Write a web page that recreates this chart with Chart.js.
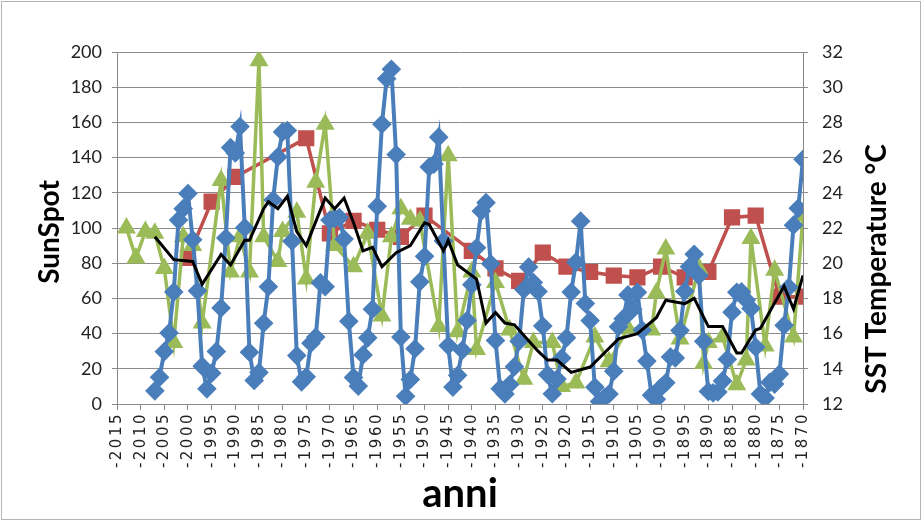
<!DOCTYPE html>
<html>
<head>
<meta charset="utf-8">
<script src="https://cdn.jsdelivr.net/npm/chart.js@4/dist/chart.umd.min.js"></script>
<style>
  html, body { margin: 0; padding: 0; background: #fff; }
  #wrap { width: 922px; height: 522px; }
</style>
</head>
<body>
<div id="wrap"><canvas id="chart" width="922" height="522"></canvas></div>
<script>
// yearly sunspot number, 2007 back to 1870 (left axis)
const sunspotFirstYear = 2007;
const sunspotValues = [
  7.5, 15.2, 29.8, 40.4, 63.7, 104.5, 111.0, 119.6, 93.3, 64.3,
  21.5, 8.6, 17.5, 29.9, 54.6, 94.3, 145.7, 142.6, 157.6, 100.2,
  29.4, 13.4, 17.9, 45.9, 66.6, 115.9, 140.4, 154.6, 155.4, 92.5,
  27.5, 12.6, 15.5, 34.5, 38.0, 68.9, 66.6, 104.5, 105.5, 105.9,
  93.7, 47.0, 15.1, 10.2, 27.9, 37.6, 53.9, 112.3, 159.0, 184.8,
  190.2, 141.7, 38.0, 4.4, 13.9, 31.4, 69.4, 83.9, 134.7, 136.3,
  151.6, 92.6, 33.2, 9.6, 16.3, 30.6, 47.5, 67.8, 88.8, 109.6,
  114.4, 79.7, 36.1, 8.7, 5.7, 11.1, 21.2, 35.7, 65.0, 77.8,
  69.0, 63.9, 44.3, 16.7, 5.8, 14.2, 26.1, 37.6, 63.6, 80.6,
  103.9, 57.1, 47.4, 9.6, 1.4, 3.6, 5.7, 18.6, 43.9, 48.5,
  62.0, 53.8, 63.5, 42.0, 24.4, 5.0, 2.7, 9.5, 12.1, 26.7,
  26.2, 41.8, 64.0, 78.0, 85.1, 73.0, 35.6, 7.1, 6.3, 6.8,
  13.1, 25.4, 52.2, 63.5, 63.7, 59.1, 54.3, 32.3, 5.7, 3.4,
  12.3, 11.3, 17.0, 44.7, 66.3, 101.6, 111.2, 139.0
];

// red squares, every 5 years (right axis, °C)
const redYears = [2000, 1995, 1990, 1975, 1970, 1965, 1960, 1955, 1950, 1940, 1935, 1930,
  1925, 1920, 1915, 1910, 1905, 1900, 1895, 1890, 1885, 1880, 1875, 1870];
const redValues = [20.3, 23.5, 24.9, 27.1, 21.7, 22.4, 21.9, 21.5, 22.7, 20.7, 19.7, 19.0,
  20.6, 19.8, 19.5, 19.3, 19.2, 19.8, 19.2, 19.5, 22.6, 22.7, 18.1, 18.1];

// green triangles (right axis, °C)
const greenYears = [2013, 2011, 2009, 2007, 2005, 2003, 2001, 1999, 1997, 1993, 1991, 1989,
  1987, 1985, 1984, 1981, 1980, 1977, 1975, 1973, 1971, 1969, 1965, 1962, 1959, 1957,
  1955, 1953, 1951, 1947, 1945, 1943, 1940, 1939, 1935, 1932, 1929, 1927, 1923, 1921,
  1918, 1914, 1911, 1907, 1902, 1901, 1899, 1896, 1892, 1891, 1890, 1887, 1884, 1882,
  1881, 1878, 1876, 1872, 1870];
const greenValues = [22.0, 20.3, 21.8, 21.7, 19.7, 15.5, 21.5, 21.0, 16.6, 24.7, 19.5, 21.5,
  19.5, 31.5, 21.5, 20.1, 21.8, 22.9, 19.1, 24.6, 27.9, 21.0, 19.8, 21.7, 17.0, 21.5,
  23.1, 22.5, 22.4, 16.4, 26.1, 16.1, 19.5, 15.1, 18.9, 16.2, 13.4, 15.5, 15.5, 13.0,
  13.2, 15.8, 14.4, 16.3, 16.2, 18.3, 20.8, 15.7, 19.7, 14.3, 15.5, 15.8, 13.1, 14.5,
  21.4, 15.3, 19.6, 15.8, 22.7];

// black smoothed line (right axis, °C)
const blackYears = [2007, 2003, 1999, 1997, 1993, 1991, 1988, 1987, 1984, 1983, 1981, 1979,
  1977, 1975, 1971, 1969, 1967, 1965, 1963, 1961, 1959, 1956, 1953, 1950, 1949, 1946,
  1945, 1943, 1939, 1937, 1935, 1933, 1931, 1926, 1924, 1922, 1919, 1915, 1912, 1909,
  1905, 1901, 1899, 1895, 1893, 1890, 1887, 1884, 1883, 1880, 1879, 1874, 1872, 1870];
const blackValues = [21.5, 20.2, 20.1, 18.8, 20.5, 19.9, 21.3, 21.3, 23.1, 23.5, 23.1, 23.8,
  21.8, 21.0, 23.7, 23.1, 23.7, 22.3, 20.7, 20.9, 19.8, 20.6, 21.0, 22.3, 22.2, 20.7,
  21.3, 19.9, 19.1, 16.6, 17.2, 16.6, 16.5, 15.0, 14.5, 14.5, 13.8, 14.1, 14.9, 15.7,
  16.0, 16.9, 17.9, 17.7, 18.0, 16.4, 16.4, 14.9, 14.9, 16.2, 16.3, 18.7, 17.4, 19.3];

const yearTicks = [-2015, -2010, -2005, -2000, -1995, -1990, -1985, -1980, -1975, -1970,
  -1965, -1960, -1955, -1950, -1945, -1940, -1935, -1930, -1925, -1920, -1915, -1910,
  -1905, -1900, -1895, -1890, -1885, -1880, -1875, -1870];
const sunspotTicks = [0, 20, 40, 60, 80, 100, 120, 140, 160, 180, 200];
const tempTicks = [12, 14, 16, 18, 20, 22, 24, 26, 28, 30, 32];

const toPoints = (years, values) => values.map((v, i) => ({ x: -years[i], y: v }));
const sunspotPoints = sunspotValues.map((v, i) => ({ x: -(sunspotFirstYear - i), y: v }));

const gridColor = '#8a8a8a';
const tickFont = { family: 'Lato', size: 18 };

// axis titles, spaced year labels and outer frame
const titlesPlugin = {
  id: 'titles',
  afterDraw(chart) {
    const ctx = chart.ctx;
    const xs = chart.scales.x;

    ctx.save();
    ctx.fillStyle = '#222';
    ctx.font = '15px "DejaVu Sans"';
    ctx.letterSpacing = '2.5px';
    ctx.textAlign = 'right';
    ctx.textBaseline = 'middle';
    yearTicks.forEach(v => {
      ctx.save();
      ctx.translate(xs.getPixelForValue(v), xs.top + 8);
      ctx.rotate(-Math.PI / 2);
      ctx.fillText(String(v), 0, 0);
      ctx.restore();
    });
    ctx.restore();

    ctx.save();
    ctx.fillStyle = '#000';
    ctx.textAlign = 'center';
    ctx.textBaseline = 'middle';
    ctx.font = 'bold 28px Lato';
    ctx.translate(50, 232);
    ctx.rotate(-Math.PI / 2);
    ctx.fillText('SunSpot', 0, 0);
    ctx.restore();

    ctx.save();
    ctx.fillStyle = '#000';
    ctx.textAlign = 'center';
    ctx.textBaseline = 'middle';
    ctx.font = 'bold 28px Lato';
    ctx.translate(877, 269);
    ctx.rotate(-Math.PI / 2);
    ctx.fillText('SST Temperature °C', 0, 0);
    ctx.restore();

    ctx.save();
    ctx.fillStyle = '#000';
    ctx.textAlign = 'center';
    ctx.textBaseline = 'middle';
    ctx.font = 'bold 40px Lato';
    ctx.fillText('anni', 460, 494);
    ctx.restore();

    ctx.save();
    ctx.strokeStyle = '#b5b5b5';
    ctx.lineWidth = 1;
    ctx.strokeRect(1.5, 1.5, 919, 518);
    ctx.restore();
  }
};

new Chart(document.getElementById('chart'), {
  type: 'line',
  data: {
    datasets: [
      {
        label: 'black', data: toPoints(blackYears, blackValues), yAxisID: 'yT',
        borderColor: '#000', borderWidth: 3, pointRadius: 0, tension: 0, order: 0
      },
      {
        label: 'SunSpot', data: sunspotPoints, yAxisID: 'y',
        borderColor: '#4a7ebb', backgroundColor: '#4a7ebb', borderWidth: 4,
        pointStyle: 'rectRot', pointRadius: 7, tension: 0, order: 1
      },
      {
        label: 'green', data: toPoints(greenYears, greenValues), yAxisID: 'yT',
        borderColor: '#9bbb59', backgroundColor: '#9bbb59', borderWidth: 3.5,
        pointStyle: 'triangle', pointRadius: 7.5, tension: 0, order: 2
      },
      {
        label: 'red', data: toPoints(redYears, redValues), yAxisID: 'yT',
        borderColor: '#c0504d', backgroundColor: '#c0504d', borderWidth: 3.5,
        pointStyle: 'rect', pointRadius: 9, tension: 0, order: 3
      }
    ]
  },
  options: {
    responsive: false,
    animation: false,
    layout: { padding: { top: 52, left: 0, right: 0, bottom: 0 } },
    plugins: { legend: { display: false }, tooltip: { enabled: false } },
    scales: {
      x: {
        type: 'linear', min: -2015, max: -1870,
        afterFit: s => { s.height = 118; },
        afterBuildTicks: s => { s.ticks = yearTicks.map(v => ({ value: v })); },
        ticks: { display: false },
        grid: { drawOnChartArea: false, drawTicks: true, tickLength: 6, color: gridColor },
        border: { display: true, color: gridColor }
      },
      y: {
        position: 'left', min: 0, max: 200,
        afterFit: s => { s.width = 117; },
        afterBuildTicks: s => { s.ticks = sunspotTicks.map(v => ({ value: v })); },
        ticks: { padding: 10, color: '#222', font: tickFont },
        grid: { color: gridColor, tickLength: 5 },
        border: { display: true, color: gridColor }
      },
      yT: {
        position: 'right', min: 12, max: 32,
        afterFit: s => { s.width = 119; },
        afterBuildTicks: s => { s.ticks = tempTicks.map(v => ({ value: v })); },
        ticks: { padding: 14, color: '#222', font: tickFont },
        grid: { drawOnChartArea: false, color: gridColor, tickLength: 5 },
        border: { display: true, color: gridColor }
      }
    }
  },
  plugins: [titlesPlugin]
});
</script>
</body>
</html>
